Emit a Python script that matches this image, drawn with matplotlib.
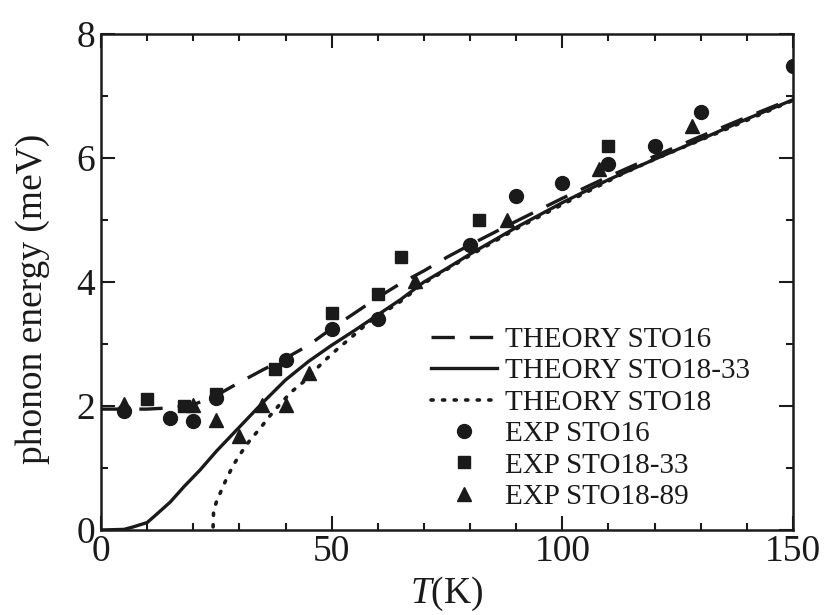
import matplotlib
matplotlib.use("Agg")
import matplotlib.pyplot as plt
from matplotlib.ticker import MultipleLocator

plt.rcParams['font.family'] = ['Liberation Serif', 'DejaVu Serif']
plt.rcParams['mathtext.fontset'] = 'custom'
plt.rcParams['mathtext.it'] = 'Liberation Serif:italic'
plt.rcParams['mathtext.rm'] = 'Liberation Serif'

# Theory curves
t_sto16 = [0, 10, 15, 20, 25, 30, 35, 40, 45, 50, 55, 60, 65, 70, 75, 80, 90, 100, 110, 120, 130, 140, 150]
e_sto16 = [1.95, 1.95, 1.97, 2.02, 2.17, 2.38, 2.58, 2.77, 2.98, 3.25, 3.5, 3.75, 3.98, 4.18, 4.4, 4.6, 4.98, 5.35, 5.7, 6.03, 6.35, 6.66, 6.96]

t_sto1833 = [0, 5, 7, 10, 12, 15, 18, 21.5, 25, 30, 35, 40, 45, 50, 55, 60, 65, 70, 75, 80, 90, 100, 110, 120, 130, 140, 150]
e_sto1833 = [0.0, 0.01, 0.05, 0.12, 0.25, 0.45, 0.7, 0.97, 1.27, 1.66, 2.05, 2.42, 2.72, 2.98, 3.22, 3.47, 3.72, 4.0, 4.22, 4.45, 4.88, 5.28, 5.65, 5.98, 6.3, 6.63, 6.94]

t_sto18 = [24.3, 24.4, 25, 25.8, 27.1, 28.7, 30.5, 32.3, 34.5, 36.6, 38.8, 41.3, 43.9, 46, 48.6, 51.4, 54, 58, 64.8, 70, 80, 90.8, 100, 113.2, 120, 133.5, 150]
e_sto18 = [0.05, 0.3, 0.45, 0.59, 0.81, 1.05, 1.26, 1.45, 1.64, 1.84, 2.03, 2.23, 2.39, 2.55, 2.74, 2.93, 3.09, 3.35, 3.68, 3.98, 4.43, 4.89, 5.25, 5.75, 5.98, 6.40, 6.93]

# Experimental points
t_exp16 = [5, 15, 20, 25, 40, 50, 60, 80, 90, 100, 110, 120, 130, 150]
e_exp16 = [1.92, 1.80, 1.76, 2.13, 2.74, 3.25, 3.40, 4.6, 5.39, 5.59, 5.9, 6.19, 6.74, 7.49]

t_exp1833 = [10, 18, 25, 37.7, 50, 60, 65, 82, 110]
e_exp1833 = [2.11, 2.0, 2.2, 2.6, 3.5, 3.8, 4.41, 5.0, 6.19]

t_exp1889 = [5, 20, 25, 30, 35, 40, 45, 68, 88, 108, 128]
e_exp1889 = [2.04, 2.02, 1.78, 1.52, 2.02, 2.02, 2.53, 4.02, 5.0, 5.82, 6.52]

labels = ['THEORY STO16', 'THEORY STO18-33', 'THEORY STO18',
          'EXP STO16', 'EXP STO18-33', 'EXP STO18-89']

fig = plt.figure(figsize=(8.28, 6.15), dpi=100)
ax = fig.add_axes([101/828, 85/615, 692/828, 496/615])
k = '#1a1a1a'

ax.plot(t_sto16, e_sto16, color=k, lw=2.4, ls=(0, (7, 4.5)), label=labels[0])
ax.plot(t_sto1833, e_sto1833, color=k, lw=2.4, ls='-', label=labels[1])
ax.plot(t_sto18, e_sto18, color=k, lw=2.6, ls=(0, (0.6, 2.6)), dash_capstyle='round', label=labels[2])
ax.plot(t_exp16, e_exp16, ls='none', marker='o', ms=10, color=k, label=labels[3])
ax.plot(t_exp1833, e_exp1833, ls='none', marker='s', ms=8.5, color=k, label=labels[4])
ax.plot(t_exp1889, e_exp1889, ls='none', marker='^', ms=9.5, color=k, label=labels[5])

ax.set_xlim(0, 150)
ax.set_ylim(0, 8)
ax.xaxis.set_major_locator(MultipleLocator(50))
ax.xaxis.set_minor_locator(MultipleLocator(10))
ax.yaxis.set_major_locator(MultipleLocator(2))
ax.yaxis.set_minor_locator(MultipleLocator(1))
ax.tick_params(which='both', direction='in', top=True, right=True, width=1.5, color=k, labelsize=27, labelcolor=k)
ax.tick_params(axis='x', which='major', length=10, pad=3)
ax.tick_params(axis='y', which='major', length=10, pad=4)
ax.tick_params(which='minor', length=5)
for s in ax.spines.values():
    s.set_linewidth(1.8)
    s.set_color(k)

ax.set_xlabel('$T$(K)', fontsize=27, color=k)
ax.set_ylabel('phonon energy (meV)', fontsize=27, color=k)
ax.xaxis.set_label_coords(0.5, -0.09)
ax.yaxis.set_label_coords(-0.074, 0.466)

leg = ax.legend(loc='upper left', bbox_to_anchor=(0.477, 0.41), frameon=False,
                fontsize=21, handlelength=2.25, handletextpad=0.28,
                labelspacing=0.17, borderpad=0, borderaxespad=0)
for t in leg.get_texts():
    t.set_color(k)

fig.savefig('out.png', dpi=100)
